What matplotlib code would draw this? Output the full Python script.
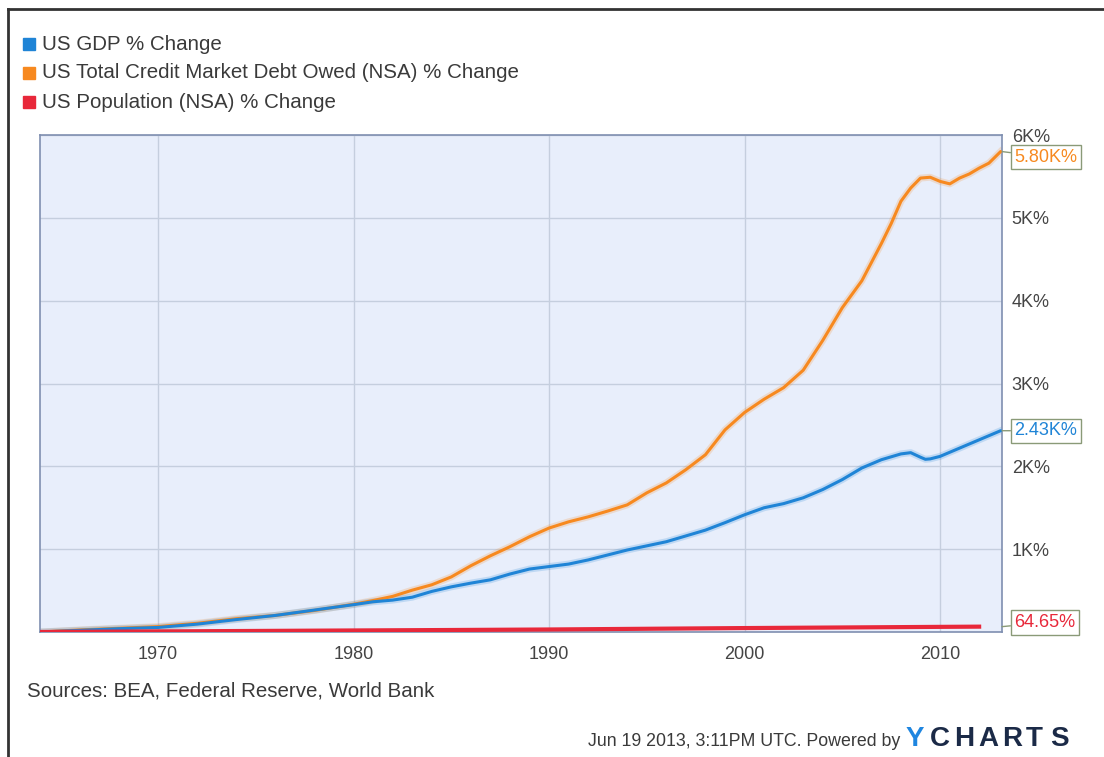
import matplotlib.pyplot as plt
import matplotlib.patches as mpatches
import matplotlib.lines as mlines

plt.rcParams["font.family"] = ["Liberation Sans", "DejaVu Sans"]

# % change since 1964
gdp_years = [1964, 1966, 1968, 1970, 1972, 1974, 1976, 1978, 1980, 1981, 1982,
             1983, 1984, 1985, 1986, 1987, 1988, 1989, 1990, 1991, 1992, 1993,
             1994, 1995, 1996, 1997, 1998, 1999, 2000, 2001, 2002, 2003, 2004,
             2005, 2006, 2007, 2008, 2008.5, 2009, 2009.25, 2009.5, 2010, 2011,
             2012, 2013.1]
gdp_pct = [0, 20, 40, 55, 95, 150, 200, 265, 330, 365, 385,
           420, 490, 545, 590, 630, 700, 760, 790, 820, 870, 930,
           990, 1040, 1090, 1160, 1230, 1320, 1415, 1500, 1550, 1620, 1720,
           1840, 1980, 2080, 2150, 2165, 2110, 2085, 2090, 2120, 2220,
           2320, 2430]

debt_years = [1964, 1966, 1968, 1970, 1972, 1974, 1976, 1978, 1980, 1981, 1982,
              1983, 1984, 1985, 1986, 1987, 1988, 1989, 1990, 1991, 1992, 1993,
              1994, 1995, 1996, 1997, 1998, 1999, 2000, 2001, 2002, 2003, 2004,
              2005, 2006, 2007, 2007.5, 2008, 2008.5, 2009, 2009.5, 2010,
              2010.5, 2011, 2011.5, 2012, 2012.5, 2013.1]
debt_pct = [0, 25, 45, 65, 105, 160, 200, 260, 335, 380, 430,
            505, 570, 665, 800, 920, 1030, 1150, 1255, 1330, 1390, 1460,
            1535, 1680, 1800, 1960, 2140, 2440, 2650, 2810, 2950, 3160, 3520,
            3915, 4240, 4690, 4930, 5200, 5360, 5480, 5490, 5440,
            5410, 5480, 5530, 5600, 5660, 5800]

pop_years = [1964, 1970, 1975, 1980, 1985, 1990, 1995, 2000, 2005, 2010, 2012]
pop_pct = [0, 7.0, 12.8, 18.6, 24.2, 30.4, 39.0, 47.5, 54.8, 62.0, 64.65]

series_names = ["US GDP % Change",
                "US Total Credit Market Debt Owed (NSA) % Change",
                "US Population (NSA) % Change"]
series_colors = ["#1f84d6", "#f7891f", "#e8283a"]
end_labels = ["2.43K%", "5.80K%", "64.65%"]

y_ticks = [1000, 2000, 3000, 4000, 5000, 6000]
y_tick_labels = ["1K%", "2K%", "3K%", "4K%", "5K%", "6K%"]
x_ticks = [1970, 1980, 1990, 2000, 2010]

W, H = 1104, 757
fig = plt.figure(figsize=(W / 100, H / 100), dpi=100)
fig.patch.set_facecolor("white")

ax = fig.add_axes([40 / W, 1 - 632 / H, 962 / W, 497 / H])
ax.set_facecolor("#e8eefb")
ax.set_xlim(1963.96, 2013.17)
ax.set_ylim(0, 6000)

# soft halo under each line, then the line itself
ax.plot(debt_years, debt_pct, color=series_colors[1], lw=5, alpha=0.2, zorder=2)
ax.plot(gdp_years, gdp_pct, color=series_colors[0], lw=5, alpha=0.2, zorder=2)
ax.plot(debt_years, debt_pct, color=series_colors[1], lw=2.2, solid_capstyle="round", zorder=3)
ax.plot(gdp_years, gdp_pct, color=series_colors[0], lw=2.2, solid_capstyle="round", zorder=4)
ax.plot(pop_years, pop_pct, color=series_colors[2], lw=3, zorder=5)

# GRID
ax.set_xticks(x_ticks)
ax.set_yticks(y_ticks)
ax.set_yticklabels(y_tick_labels)
ax.grid(True, color="#c5cede", lw=1)
ax.set_axisbelow(True)
ax.yaxis.tick_right()
ax.tick_params(axis="both", length=0, labelsize=13, labelcolor="#444444")
ax.tick_params(axis="x", pad=10)
ax.tick_params(axis="y", pad=7)
for s in ax.spines.values():
    s.set_color("#7f8fb0")
    s.set_linewidth(1.2)

# END VALUE LABELS
ends = [(gdp_pct[-1], series_colors[0], end_labels[0]),
        (debt_pct[-1], series_colors[1], end_labels[1]),
        (pop_pct[-1], series_colors[2], end_labels[2])]
offsets = [0, -4, 3]
for (val, col, lab), dy in zip(ends, offsets):
    ax.annotate(lab, xy=(1, val), xycoords=("axes fraction", "data"),
                xytext=(9, dy), textcoords="offset points",
                ha="left", va="center", fontsize=13, color=col,
                bbox=dict(boxstyle="square,pad=0.2", fc="white", ec="#8a9a78", lw=1),
                arrowprops=dict(arrowstyle="-", color="#8a9a78", lw=1,
                                shrinkA=0, shrinkB=0),
                annotation_clip=False, zorder=6)

# LEGEND
for i, (name, col) in enumerate(zip(series_names, series_colors)):
    yy = 1 - (44 + 29 * i) / H
    fig.patches.append(mpatches.Rectangle((23 / W, yy - 6 / H), 12 / W, 12 / H,
                                          transform=fig.transFigure, color=col))
    fig.text(42 / W, yy, name, fontsize=14.8, color="#3a3a3a", va="center", ha="left")

# FOOTER
fig.text(27 / W, 1 - 691 / H, "Sources: BEA, Federal Reserve, World Bank",
         fontsize=14.8, color="#3a3a3a", va="center", ha="left")
fig.text(900 / W, 1 - 741 / H, "Jun 19 2013, 3:11PM UTC. Powered by",
         fontsize=12.8, color="#3a3a3a", va="center", ha="right")
logo = "YCHARTS"
for i, ch in enumerate(logo):
    fig.text((906 + 24 * i) / W, 1 - 739 / H, ch, fontsize=20, fontweight="bold",
             color="#1f86e0" if i == 0 else "#1b2a47", va="center", ha="left")

# OUTER FRAME
fig.lines.append(mlines.Line2D([8 / W, 1], [1 - 9 / H, 1 - 9 / H],
                               transform=fig.transFigure, color="#333333", lw=2))
fig.lines.append(mlines.Line2D([8 / W, 8 / W], [0, 1 - 9 / H],
                               transform=fig.transFigure, color="#333333", lw=2))

fig.savefig("out.png", dpi=100)
